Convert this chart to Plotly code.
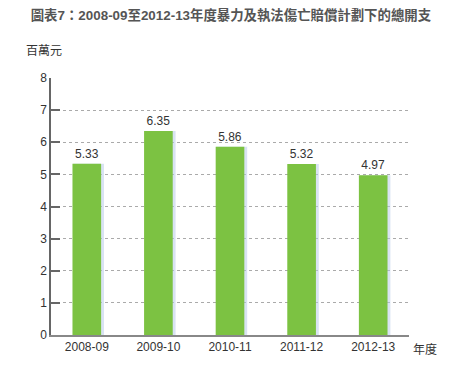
import plotly.graph_objects as go

years = ["2008-09", "2009-10", "2010-11", "2011-12", "2012-13"]
values = [5.33, 6.35, 5.86, 5.32, 4.97]
labels = ["5.33", "6.35", "5.86", "5.32", "4.97"]

font_family = "Arial, 'Liberation Sans', 'Noto Sans CJK TC', sans-serif"

fig = go.Figure()
# subtle shadow
fig.add_trace(go.Bar(
    x=years, y=values, width=0.43, offset=-0.19,
    marker=dict(color="rgba(180,200,232,0.5)", line=dict(width=0)),
    hoverinfo="skip", showlegend=False,
))
fig.add_trace(go.Bar(
    x=years, y=values, width=0.4, offset=-0.2,
    marker=dict(color="#7cc242", line=dict(width=0)),
    text=labels, textposition="outside",
    textfont=dict(size=12, color="#333333", family=font_family),
    cliponaxis=False, showlegend=False,
))

fig.update_layout(
    width=454, height=384,
    margin=dict(l=43, r=53, t=70, b=57),
    paper_bgcolor="white", plot_bgcolor="white",
    barmode="overlay",
    font=dict(family=font_family, color="#333333"),
    title=dict(
        text="<b>圖表7：2008-09至2012-13年度暴力及執法傷亡賠償計劃下的總開支</b>",
        x=0.491, xanchor="center", y=0.982, yanchor="middle",
        font=dict(size=13.4, color="#555555"),
    ),
    xaxis=dict(
        type="category",
        showgrid=False, showline=True, linecolor="#888888", linewidth=2,
        ticks="", tickfont=dict(size=12, color="#333333"),
    ),
    yaxis=dict(
        range=[0, 8], dtick=1, showgrid=True, gridcolor="#aaaaaa",
        griddash="3px,3px", gridwidth=1, zeroline=False,
        showline=True, linecolor="#666666", linewidth=1.5,
        ticks="inside", ticklen=9, tickcolor="#666666", tickwidth=1.5,
        tickfont=dict(size=12, color="#333333"),
    ),
    annotations=[
        dict(text="百萬元", xref="paper", yref="paper", x=-0.075, y=1.07,
             xanchor="left", yanchor="bottom", showarrow=False,
             font=dict(size=12, color="#333333")),
        dict(text="年度", xref="paper", yref="paper", x=1.005, y=-0.02,
             xanchor="left", yanchor="top", showarrow=False,
             font=dict(size=12, color="#333333")),
    ],
)

fig.write_html("out.html")
